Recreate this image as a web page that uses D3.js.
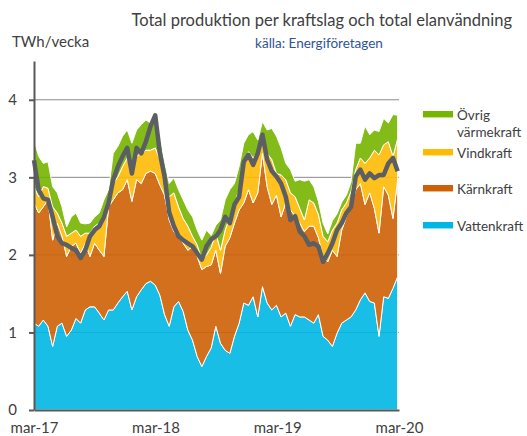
<!DOCTYPE html>
<html>
<head>
<meta charset="utf-8">
<script src="https://cdn.jsdelivr.net/npm/d3@7"></script>
<style>
  body { margin: 0; background: #fff; }
  text { font-family: Lato, "Open Sans", sans-serif; fill: #404040; }
</style>
</head>
<body>
<svg id="chart" width="527" height="436"></svg>
<script>
// veckodata (varannan vecka), TWh/vecka
const START = new Date(2017, 2, 1);

const vattenkraft = [1.12,1.08,1.16,1.08,0.82,1.08,1.12,0.95,1.03,1.18, 1.12,1.29,1.33,1.33,1.25,1.16,1.29,1.29,1.38,1.46,
  1.53,1.29,1.46,1.55,1.63,1.66,1.61,1.48,1.23,1.08, 1.33,1.40,1.27,1.03,0.90,0.69,0.56,0.69,0.80,1.08,
  0.86,0.77,0.73,0.95,1.12,1.38,1.35,1.46,1.20,1.59, 1.38,1.29,1.35,1.20,1.25,1.08,1.23,1.20,1.20,1.16,
  1.12,1.23,0.95,0.90,0.82,0.99,1.12,1.16,1.20,1.29, 1.42,1.51,1.40,1.38,0.95,1.46,1.44,1.57,1.72];

const karnkraft = [1.55,1.46,1.46,1.63,1.37,1.33,1.12,1.03,1.08,0.97, 0.90,0.86,0.65,0.82,0.81,0.82,1.33,1.42,1.42,1.38,
  1.44,1.40,1.51,1.37,1.42,1.42,1.44,1.42,1.54,1.37, 0.97,0.82,0.88,1.03,1.21,1.29,1.25,1.16,1.07,0.98,
  0.90,1.34,1.49,1.46,1.46,1.29,1.49,1.21,1.60,1.72, 1.50,1.36,1.42,1.29,1.42,1.50,1.27,1.21,1.10,1.21,
  1.25,0.99,1.03,1.01,1.24,0.99,1.20,1.33,1.42,1.55, 1.50,1.14,1.40,1.22,1.33,1.42,1.33,0.90,1.25];

const vindkraft = [0.21,0.21,0.26,0.15,0.43,0.13,0.17,0.26,0.17,0.17, 0.22,0.13,0.30,0.22,0.35,0.56,0.09,0.21,0.21,0.30,
  0.28,0.45,0.30,0.39,0.30,0.27,0.33,0.33,0.18,0.30, 0.50,0.40,0.32,0.31,0.13,0.15,0.13,0.15,0.23,0.22,
  0.30,0.21,0.27,0.26,0.26,0.49,0.49,0.58,0.53,0.26, 0.43,0.58,0.28,0.54,0.30,0.22,0.25,0.19,0.15,0.34,
  0.30,0.30,0.26,0.26,0.26,0.43,0.26,0.18,0.20,0.26, 0.33,0.53,0.45,0.75,1.01,0.54,0.69,0.80,0.53];

const ovrigVarmekraft = [0.60,0.52,0.30,0.34,0.26,0.26,0.21,0.12,0.21,0.22, 0.17,0.12,0.13,0.12,0.13,0.17,0.13,0.39,0.39,0.39,
  0.36,0.30,0.34,0.37,0.39,0.35,0.34,0.30,0.25,0.17, 0.19,0.22,0.24,0.21,0.25,0.19,0.25,0.32,0.15,0.10,
  0.39,0.39,0.35,0.25,0.30,0.28,0.22,0.34,0.15,0.15, 0.30,0.40,0.48,0.35,0.21,0.30,0.20,0.37,0.50,0.26,
  0.21,0.17,0.17,0.10,0.12,0.12,0.10,0.10,0.12,0.34, 0.19,0.48,0.30,0.26,0.30,0.34,0.24,0.54,0.30];

const elanvandning = [3.22,2.84,2.73,2.71,2.49,2.24,2.15,2.13,2.09,2.06, 1.96,2.06,2.24,2.32,2.37,2.49,2.67,2.97,3.14,3.27,
  3.38,3.05,3.38,3.31,3.46,3.66,3.80,3.31,3.01,2.55, 2.37,2.24,2.19,2.15,2.11,2.02,1.94,2.11,2.20,2.24,
  2.32,2.49,2.41,2.65,2.75,3.20,3.29,3.16,3.31,3.55, 3.23,3.08,3.01,2.92,2.75,2.45,2.50,2.30,2.24,2.13,
  2.15,2.11,1.91,2.02,2.15,2.32,2.41,2.54,2.62,3.01, 3.10,2.97,3.05,2.99,3.03,3.03,3.18,3.25,3.08];

const xTickLabels = ["mar-17", "mar-18", "mar-19", "mar-20"];
const yTicks = [0, 1, 2, 3, 4];

const KEYS = ["vattenkraft", "karnkraft", "vindkraft", "ovrig"];
const COLORS = { vattenkraft: "#00b7e4", karnkraft: "#ce6106", vindkraft: "#ffba05", ovrig: "#76b500" };
const LEGEND = [
  { key: "ovrig", lines: ["Övrig", "värmekraft"], y: 114 },
  { key: "vindkraft", lines: ["Vindkraft"], y: 152 },
  { key: "karnkraft", lines: ["Kärnkraft"], y: 188 },
  { key: "vattenkraft", lines: ["Vattenkraft"], y: 225 }
];

let rows = vattenkraft.map(function(d, i) {
  return {
    date: d3.timeDay.offset(START, 14 * i),
    vattenkraft: d,
    karnkraft: karnkraft[i],
    vindkraft: vindkraft[i],
    ovrig: ovrigVarmekraft[i],
    total: elanvandning[i]
  };
});

const svg = d3.select("#chart");

let x = d3.scaleTime()
  .domain([new Date(2017, 2, 1), new Date(2020, 2, 1)])
  .range([34, 399]);
let y = d3.scaleLinear()
  .domain([0, 4.5])
  .range([410, 61]);

// stödlinjer
svg.append("g")
  .selectAll("line")
  .data(yTicks.slice(1))
  .join("line")
  .attr("x1", x.range()[0])
  .attr("x2", x.range()[1])
  .attr("y1", d => y(d))
  .attr("y2", d => y(d))
  .attr("stroke", "#8a8a8a")
  .attr("stroke-width", 1);

let stacked = d3.stack().keys(KEYS)(rows);

let area = d3.area()
  .x(d => x(d.data.date))
  .y0(d => y(d[0]))
  .y1(d => y(d[1]));

svg.append("g")
  .selectAll("path")
  .data(stacked)
  .join("path")
  .attr("d", area)
  .attr("fill", d => COLORS[d.key])
  .attr("fill-opacity", 0.9)
  .attr("stroke", "#fff")
  .attr("stroke-width", 1);

let line = d3.line()
  .x(d => x(d.date))
  .y(d => y(d.total));

svg.append("path")
  .datum(rows)
  .attr("d", line)
  .attr("fill", "none")
  .attr("stroke", "#5b5e62")
  .attr("stroke-width", 4.5)
  .attr("stroke-linejoin", "round");

// axlar
let yAxis = svg.append("g")
  .attr("transform", "translate(34,0)")
  .call(d3.axisLeft(y).tickValues(yTicks).tickFormat(d3.format("d"))
    .tickSize(5).tickSizeOuter(0).tickPadding(12));
yAxis.selectAll("text").style("font-size", "15px").attr("fill", "#404040");

let xAxis = svg.append("g")
  .attr("transform", "translate(0,410)")
  .call(d3.axisBottom(x)
    .tickValues(xTickLabels.map((d, i) => new Date(2017 + i, 2, 1)))
    .tickFormat((d, i) => xTickLabels[i])
    .tickSize(0).tickSizeOuter(0).tickPadding(12));
xAxis.selectAll("text").style("font-size", "15px").attr("fill", "#404040");

svg.selectAll(".domain").attr("stroke", "#595959").attr("stroke-width", 2);
svg.selectAll(".tick line").attr("stroke", "#595959").attr("stroke-width", 2);

// texter
svg.append("text")
  .attr("x", 512).attr("y", 26)
  .attr("text-anchor", "end")
  .style("font-size", "16.5px")
  .text("Total produktion per kraftslag och total elanvändning");

svg.append("text")
  .attr("x", 12).attr("y", 47)
  .style("font-size", "15px")
  .text("TWh/vecka");

svg.append("text")
  .attr("x", 319).attr("y", 48)
  .attr("text-anchor", "middle")
  .style("font-size", "13.5px")
  .style("fill", "#2f5496")
  .text("källa: Energiföretagen");

// förklaring
let legend = svg.append("g")
  .selectAll("g")
  .data(LEGEND)
  .join("g")
  .attr("transform", d => "translate(423," + d.y + ")");

legend.append("rect")
  .attr("x", 0).attr("y", -3)
  .attr("width", 30).attr("height", 6)
  .attr("fill", d => COLORS[d.key]);
legend.append("line")
  .attr("x1", 0).attr("x2", 30)
  .attr("y1", 3.5).attr("y2", 3.5)
  .attr("stroke", d => COLORS[d.key])
  .attr("stroke-opacity", 0.45);

legend.append("text")
  .attr("x", 34)
  .attr("y", 6)
  .style("font-size", "13.5px")
  .selectAll("tspan")
  .data(d => d.lines)
  .join("tspan")
  .attr("x", 34)
  .attr("dy", (d, i) => i === 0 ? 0 : 17)
  .text(d => d);
</script>
</body>
</html>
